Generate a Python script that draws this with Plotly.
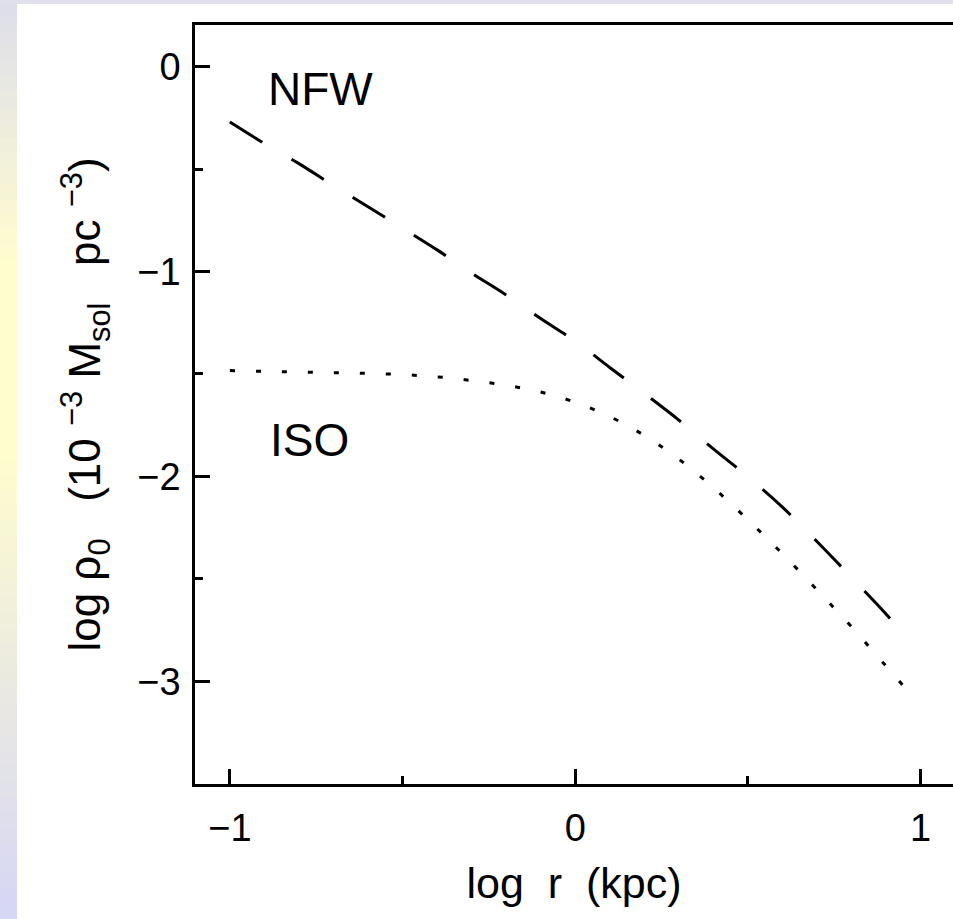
import numpy as np
import plotly.graph_objects as go

# ---- data ----
nfw_x = [-1.0, -0.9, -0.8, -0.7, -0.6, -0.5, -0.4, -0.3, -0.2, -0.1, 0.0,
         0.1, 0.2, 0.3, 0.4, 0.5, 0.6, 0.7, 0.8, 0.9, 0.96]
nfw_y = [-0.27, -0.375, -0.473, -0.58, -0.683, -0.788, -0.894, -1.007, -1.114, -1.229, -1.34,
         -1.468, -1.595, -1.725, -1.866, -2.002, -2.150, -2.318, -2.493, -2.672, -2.79]

iso_x = [-1.0, -0.9, -0.8, -0.7, -0.6, -0.5, -0.4, -0.3, -0.2, -0.1, 0.0,
         0.1, 0.2, 0.3, 0.4, 0.5, 0.6, 0.7, 0.8, 0.9, 0.98]
iso_y = [-1.483, -1.487, -1.490, -1.494, -1.497, -1.503, -1.514, -1.532, -1.555, -1.588, -1.638,
         -1.708, -1.800, -1.916, -2.055, -2.212, -2.378, -2.554, -2.734, -2.926, -3.08]

x_ticks = [-1, 0, 1]
x_ticklabels = ["\u22121", "0", "1"]
y_ticks = [0, -1, -2, -3]
y_ticklabels = ["0", "\u22121", "\u22122", "\u22123"]

labels = ["NFW", "ISO"]
label_x = [-0.895, -0.89]
label_y = [-0.11, -1.82]

FONT = "Liberation Sans, Arial, sans-serif"

fig = go.Figure()
fig.add_trace(go.Scatter(x=nfw_x, y=nfw_y, mode="lines",
                         line=dict(color="black", width=3, dash="38px,34px"),
                         line_shape="spline", showlegend=False))
fig.add_trace(go.Scatter(x=iso_x, y=iso_y, mode="lines",
                         line=dict(color="black", width=3, dash="5px,21px"),
                         line_shape="spline", showlegend=False))

for t, xx, yy in zip(labels, label_x, label_y):
    fig.add_annotation(x=xx, y=yy, text=t, showarrow=False, xanchor="left", yanchor="middle",
                       font=dict(family=FONT, size=46, color="black"))

# ---- decorative left gradient strip and top strip ----
shapes = []
stops_y = [0, 260, 460, 919]
stops_c = [(222, 222, 236), (255, 253, 206), (255, 253, 206), (214, 214, 246)]
n = 60
edges = np.linspace(0, 919, n + 1)
for i in range(n):
    mid = (edges[i] + edges[i + 1]) / 2
    c = [int(np.interp(mid, stops_y, [s[k] for s in stops_c])) for k in range(3)]
    shapes.append(dict(type="rect", xref="paper", yref="paper", xsizemode="pixel", ysizemode="pixel",
                       xanchor=0, yanchor=1, x0=-195, x1=-178, y0=25 - edges[i], y1=25 - edges[i + 1] - 1,
                       fillcolor="rgb(%d,%d,%d)" % tuple(c), line=dict(width=0), layer="below"))
shapes.append(dict(type="rect", xref="paper", yref="paper", xsizemode="pixel", ysizemode="pixel",
                   xanchor=0, yanchor=1, x0=-195, x1=800, y0=25, y1=21,
                   fillcolor="rgb(224,224,236)", line=dict(width=0), layer="below"))

NB = "\u00a0"
ytitle = ("log" + NB + "\u03c1<sub>0</sub>" + NB * 3 + "(10" + NB + "<sup>\u22123</sup>" + NB +
          "M<sub>sol</sub>" + NB * 3 + "pc" + NB + "<sup>\u22123</sup>)")

fig.update_layout(
    width=953, height=919,
    margin=dict(l=195, r=0, t=25, b=135),
    paper_bgcolor="white", plot_bgcolor="white",
    font=dict(family=FONT, color="black"),
    shapes=shapes,
    xaxis=dict(range=[-1.101, 1.094], showgrid=False, zeroline=False,
               showline=True, linecolor="black", linewidth=2.5, mirror=True,
               ticks="inside", ticklen=15, tickwidth=2.5, tickcolor="black",
               tickvals=x_ticks, ticktext=x_ticklabels,
               tickfont=dict(family=FONT, size=38), ticklabelstandoff=9,
               minor=dict(dtick=0.5, tick0=0, ticks="inside", ticklen=8, tickwidth=2.5, tickcolor="black"),
               title=dict(text="log" + NB * 2 + "r" + NB * 2 + "(kpc)", font=dict(family=FONT, size=43), standoff=20)),
    yaxis=dict(range=[-3.502, 0.204], showgrid=False, zeroline=False,
               showline=True, linecolor="black", linewidth=2.5, mirror=False,
               ticks="inside", ticklen=15, tickwidth=2.5, tickcolor="black",
               tickvals=y_ticks, ticktext=y_ticklabels,
               tickfont=dict(family=FONT, size=38), ticklabelstandoff=4,
               minor=dict(dtick=0.5, tick0=0, ticks="inside", ticklen=8, tickwidth=2.5, tickcolor="black"),
               title=dict(text=ytitle, font=dict(family=FONT, size=44), standoff=23)),
)

fig.write_html("out.html")
